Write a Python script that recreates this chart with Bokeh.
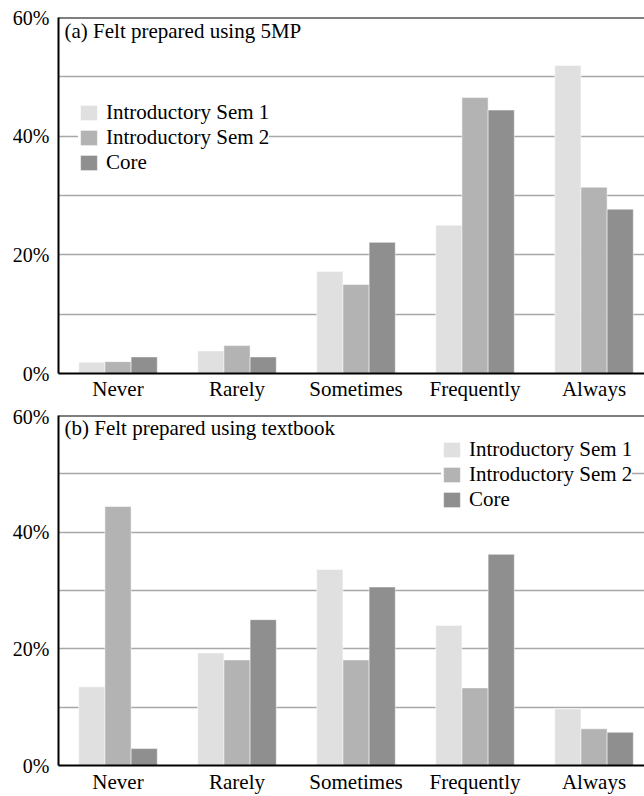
from bokeh.plotting import figure
from bokeh.models import (Range1d, FixedTicker, Span, Label, Legend, LegendItem,
                          ColumnDataSource)
from bokeh.layouts import column
from bokeh.transform import dodge
from bokeh.embed import file_html
from bokeh.resources import INLINE

# ---------------- data ----------------
categories = ["Never", "Rarely", "Sometimes", "Frequently", "Always"]
series_names = ["Introductory Sem 1", "Introductory Sem 2", "Core"]

a_sem1 = [1.9, 3.8, 17.2, 25.0, 51.9]
a_sem2 = [2.0, 4.7, 15.0, 46.5, 31.4]
a_core = [2.8, 2.8, 22.1, 44.4, 27.7]

b_sem1 = [13.5, 19.3, 33.6, 24.0, 9.7]
b_sem2 = [44.4, 18.1, 18.1, 13.3, 6.3]
b_core = [2.9, 25.0, 30.6, 36.2, 5.7]

y_ticks = [0, 20, 40, 60]
y_tick_labels = ["0%", "20%", "40%", "60%"]
grid_values = [10, 20, 30, 40, 50]

title_a = "(a) Felt prepared using 5MP"
title_b = "(b) Felt prepared using textbook"

colors = ["#e0e0e0", "#b3b3b3", "#8f8f8f"]
FONT = "'Liberation Serif', 'Times New Roman', serif"
BAR_W = 0.22
OFFSETS = [-BAR_W, 0.0, BAR_W]


def make_panel(title, series, legend_xy, height, top, bottom, frame_h,
               x_standoff, title_drop):
    p = figure(width=644, height=height, output_backend="svg",
               toolbar_location=None, x_range=Range1d(-0.5, 4.424),
               y_range=Range1d(0, 60), min_border_left=58, min_border_right=0,
               min_border_top=top, min_border_bottom=bottom)
    p.outline_line_color = None
    p.background_fill_color = "white"
    p.border_fill_color = "white"

    src = ColumnDataSource(dict(idx=list(range(len(categories))),
                                s0=series[0], s1=series[1], s2=series[2]))
    items = []
    for i, name in enumerate(series_names):
        r = p.vbar(x=dodge("idx", OFFSETS[i], range=p.x_range), top="s%d" % i,
                   width=BAR_W, source=src, fill_color=colors[i],
                   line_color="white", line_width=0.5)
        items.append(LegendItem(label=name, renderers=[r]))

    # axes
    p.xaxis.ticker = FixedTicker(ticks=list(range(len(categories))))
    p.xaxis.major_label_overrides = {i: c for i, c in enumerate(categories)}
    p.yaxis.ticker = FixedTicker(ticks=y_ticks)
    p.yaxis.major_label_overrides = {t: l for t, l in zip(y_ticks, y_tick_labels)}
    for ax in (p.xaxis[0], p.yaxis[0]):
        ax.axis_line_color = "black"
        ax.axis_line_width = 2
        ax.major_tick_out = 0
        ax.major_tick_in = 0
        ax.minor_tick_out = 0
        ax.minor_tick_in = 0
        ax.major_label_text_font = FONT
        ax.major_label_text_color = "black"
    p.xaxis.major_label_text_font_size = "21px"
    p.yaxis.major_label_text_font_size = "20px"
    p.xaxis.major_label_standoff = x_standoff
    p.yaxis.major_label_standoff = 9

    p.xgrid.visible = False
    p.ygrid.ticker = FixedTicker(ticks=grid_values)
    p.ygrid.grid_line_color = "#a8a8a8"
    p.ygrid.grid_line_width = 1.5

    p.add_layout(Span(location=60, dimension="width", line_color="black",
                      line_width=2))

    p.add_layout(Label(x=6, y=frame_h - title_drop, x_units="screen",
                       y_units="screen", text=title, text_font=FONT,
                       text_font_size="21px", text_baseline="top",
                       text_color="black"))

    legend = Legend(items=items, location=legend_xy)
    legend.border_line_color = None
    legend.background_fill_color = "white"
    legend.background_fill_alpha = 1.0
    legend.label_text_font = FONT
    legend.label_text_font_size = "21px"
    legend.label_text_color = "black"
    legend.glyph_width = 21
    legend.glyph_height = 19
    legend.label_height = 21
    legend.spacing = 0
    legend.padding = 6
    legend.margin = 0
    legend.label_standoff = 7
    p.add_layout(legend)
    return p


pa = make_panel(title_a, [a_sem1, a_sem2, a_core], (20, 198),
                height=405, top=17, bottom=32, frame_h=356, x_standoff=3,
                title_drop=1)
pb = make_panel(title_b, [b_sem1, b_sem2, b_core], (383, 253),
                height=391, top=10, bottom=26, frame_h=355, x_standoff=4,
                title_drop=5)

layout = column(pa, pb, spacing=0)
open("out.html", "w").write(file_html(layout, INLINE))
